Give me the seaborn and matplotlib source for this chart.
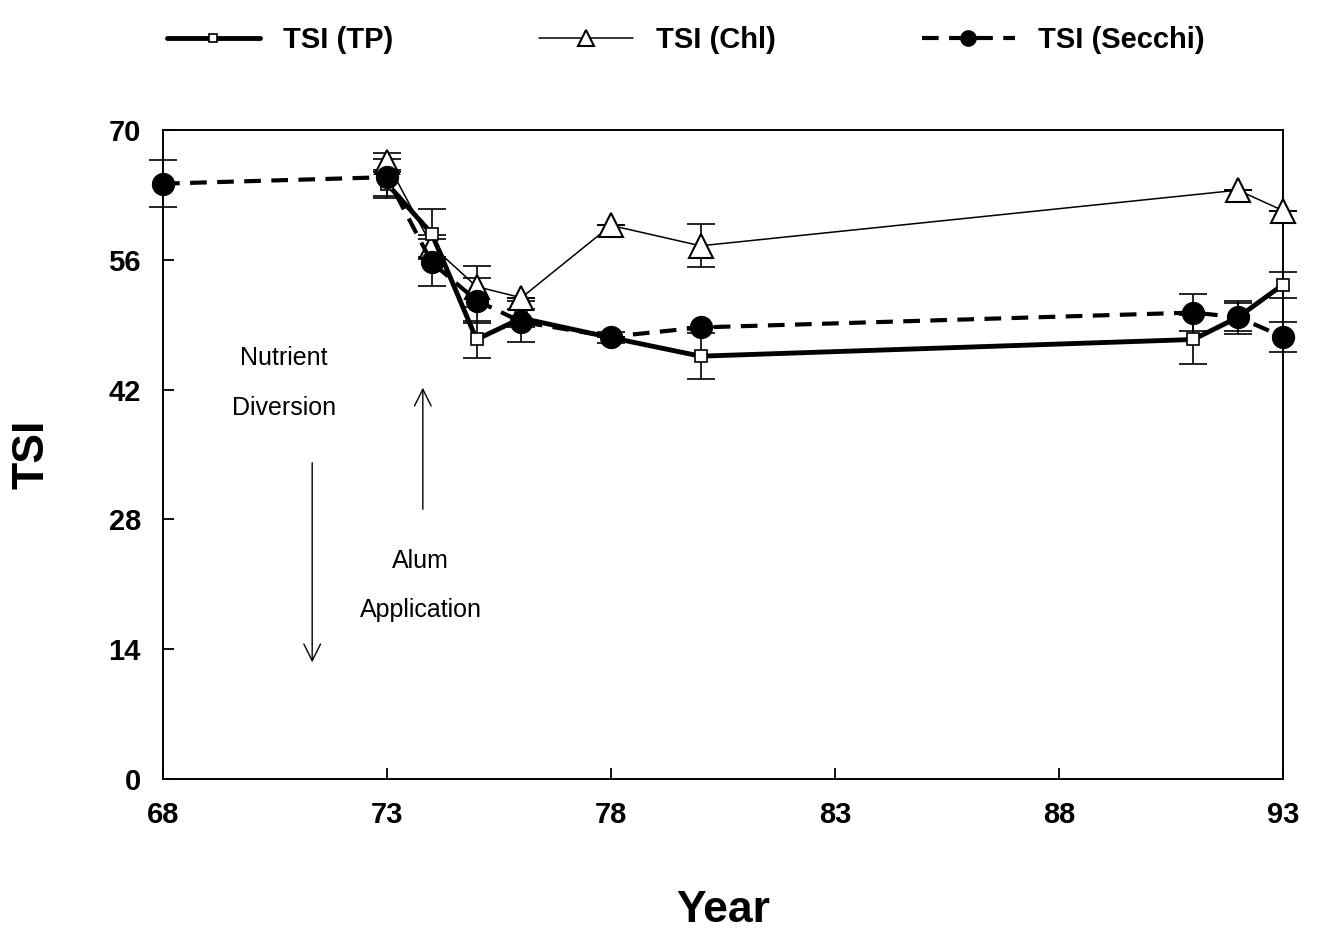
import numpy as np
import pandas as pd
import matplotlib
matplotlib.use("Agg")
import matplotlib.pyplot as plt
import seaborn as sns

# valores
anos_tp = [73, 74, 75, 76, 78, 80, 91, 92, 93]
tsi_tp = [64.2, 58.8, 47.4, 49.7, 47.6, 45.6, 47.4, 49.8, 53.3]
err_tp = [1.5, 2.7, 2.0, 1.0, 0.6, 2.5, 2.6, 1.5, 1.4]

anos_chl = [73, 74, 75, 76, 78, 80, 92, 93]
tsi_chl = [66.5, 57.5, 53.1, 51.9, 59.7, 57.5, 63.5, 61.3]
err_chl = [1.0, 1.2, 2.2, 0.0, 0.0, 2.3, 0.0, 0.0]

anos_secchi = [68, 73, 74, 75, 76, 78, 80, 91, 92, 93]
tsi_secchi = [64.2, 64.9, 55.7, 51.6, 49.3, 47.7, 48.7, 50.3, 49.8, 47.7]
err_secchi = [2.5, 2.0, 2.5, 2.4, 2.2, 0.0, 0.0, 2.0, 1.8, 1.6]

xticks = [68, 73, 78, 83, 88, 93]
yticks = [0, 14, 28, 42, 56, 70]

sns.set_style("ticks")
plt.rcParams['font.family'] = ['Liberation Sans', 'DejaVu Sans']
plt.rcParams['text.color'] = 'black'
plt.rcParams['axes.labelcolor'] = 'black'
plt.rcParams['xtick.color'] = 'black'
plt.rcParams['ytick.color'] = 'black'
plt.rcParams['axes.edgecolor'] = 'black'

df_tp = pd.DataFrame({'Ano': anos_tp, 'TSI': tsi_tp})
df_chl = pd.DataFrame({'Ano': anos_chl, 'TSI': tsi_chl})
df_sec = pd.DataFrame({'Ano': anos_secchi, 'TSI': tsi_secchi})

fig = plt.figure(figsize=(13.19, 9.41), dpi=100)
ax = fig.add_axes([0.1236, 0.172, 0.849, 0.690])

# barras de erro
for xs, ys, es in [(anos_secchi, tsi_secchi, err_secchi),
                   (anos_tp, tsi_tp, err_tp),
                   (anos_chl, tsi_chl, err_chl)]:
    eb = ax.errorbar(xs, ys, yerr=es, fmt='none', ecolor='black',
                     elinewidth=1.2, capsize=10, capthick=1.2, zorder=2)
    for art in eb.get_children():
        art.set_clip_on(False)

sns.lineplot(data=df_chl, x='Ano', y='TSI', ax=ax, color='black', lw=1.1,
             marker='^', markersize=17, markerfacecolor='white',
             markeredgecolor='black', markeredgewidth=1.5, zorder=3,
             label='TSI (Chl)', clip_on=False)
sns.lineplot(data=df_tp, x='Ano', y='TSI', ax=ax, color='black', lw=3.5,
             marker='s', markersize=9, markerfacecolor='white',
             markeredgecolor='black', markeredgewidth=1.2, zorder=4,
             label='TSI (TP)', clip_on=False)
sns.lineplot(data=df_sec, x='Ano', y='TSI', ax=ax, color='black', lw=3.0,
             linestyle=(0, (4, 2.5)), marker='o', markersize=16,
             markerfacecolor='black', markeredgecolor='black', zorder=5,
             label='TSI (Secchi)', clip_on=False)

ax.set_xlim(68, 93)
ax.set_ylim(0, 70)
ax.set_xticks(xticks)
ax.set_yticks(yticks)
ax.tick_params(direction='in', length=8, width=1.3, labelsize=21, pad=16)
for lab in ax.get_xticklabels() + ax.get_yticklabels():
    lab.set_fontweight('bold')
for s in ax.spines.values():
    s.set_linewidth(1.4)

ax.set_xlabel('Year', fontsize=32, fontweight='bold', labelpad=44)
ax.set_ylabel('TSI', fontsize=32, fontweight='bold', labelpad=40)

# anotacoes
ax.text(70.7, 45.4, 'Nutrient', fontsize=18, ha='center', va='center')
ax.text(70.7, 40.0, 'Diversion', fontsize=18, ha='center', va='center')
ax.annotate('', xy=(71.33, 12.3), xytext=(71.33, 34.4),
            arrowprops=dict(arrowstyle='->', color='black', lw=1.0,
                            mutation_scale=30))
ax.text(73.75, 23.5, 'Alum', fontsize=18, ha='center', va='center')
ax.text(73.75, 18.2, 'Application', fontsize=18, ha='center', va='center')
ax.annotate('', xy=(73.8, 42.5), xytext=(73.8, 28.8),
            arrowprops=dict(arrowstyle='->', color='black', lw=1.0,
                            mutation_scale=30))

# legenda no topo
h, l = ax.get_legend_handles_labels()
ordem = [l.index('TSI (TP)'), l.index('TSI (Chl)'), l.index('TSI (Secchi)')]
ax.legend_.remove()
fig.legend([h[i] for i in ordem], [l[i] for i in ordem], loc='upper center',
           bbox_to_anchor=(0.52, 1.0), ncol=3, frameon=False,
           prop={'size': 21, 'weight': 'bold'},
           handlelength=3.2, columnspacing=5, markerscale=0.7)

fig.savefig('out.png', dpi=100)
